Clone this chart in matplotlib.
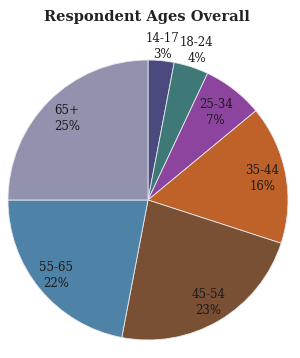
import numpy as np
from matplotlib import pyplot as plt

# données
ages = ['14-17', '18-24', '25-34', '35-44', '45-54', '55-65', '65+']
pourcentages = [3, 4, 7, 16, 23, 22, 25]
couleurs = ['#4a4a7e', '#3e7978', '#8d449e', '#bf6229', '#7a5035', '#4e82a6', '#9292ae']

# distance radiale des étiquettes (les deux petites parts ont leur étiquette dehors)
dist_etiquettes = [1.1, 1.12, 0.79, 0.83, 0.85, 0.85, 0.82]

plt.rcParams['font.family'] = ['DejaVu Serif']

fig = plt.figure(figsize=(3.0, 3.58), dpi=100)
ax = fig.add_axes([8 / 300, 18 / 358, 280 / 300, 280 / 358])

wedges, _ = ax.pie(pourcentages, colors=couleurs, startangle=90, counterclock=False,
                   wedgeprops=dict(edgecolor='#e8e8ee', linewidth=0.6))

for w, age, p, d in zip(wedges, ages, pourcentages, dist_etiquettes):
    ang = np.deg2rad((w.theta1 + w.theta2) / 2)
    ax.text(d * np.cos(ang), d * np.sin(ang), f'{age}\n{p}%', ha='center', va='center',
            fontsize=8.5, color='#1a1a1a', linespacing=1.3)

ax.set_xlim(-1, 1)
ax.set_ylim(-1, 1)
ax.set_aspect('equal')
ax.axis('off')

fig.text(147 / 300, 1 - 17 / 358, 'Respondent Ages Overall', ha='center', va='center',
         fontsize=10.5, fontweight='bold', color='#222222')

fig.savefig('out.png', dpi=100)
